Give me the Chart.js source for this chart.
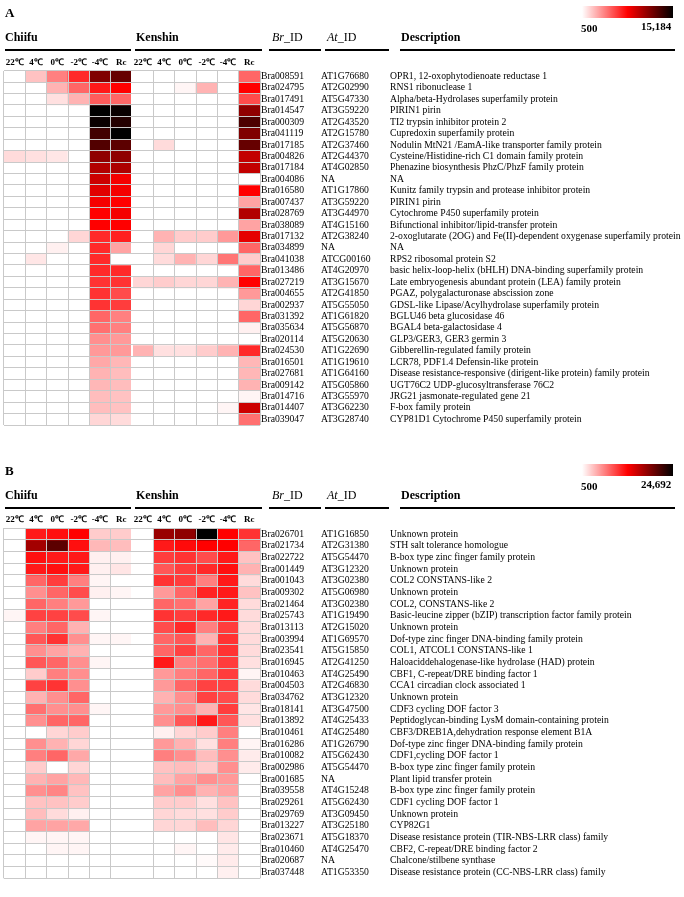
<!DOCTYPE html>
<html>
<head>
<meta charset="utf-8">
<script src="https://cdn.jsdelivr.net/npm/chart.js@4.4.1/dist/chart.umd.min.js"></script>
<style>
  body { margin: 0; background: #fff; width: 684px; height: 897px; position: relative; overflow: hidden; font-family: 'Liberation Serif', 'Times New Roman', serif; color: #000; }
  .panel { position: absolute; left: 0; width: 684px; }
  .panel canvas { position: absolute; left: 0; top: 0; z-index: 0; }
  .t { position: absolute; line-height: 1; white-space: nowrap; z-index: 2; }
  .tag { font-size: 13px; font-weight: bold; left: 5px; top: 6px; }
  .grp { font-size: 12px; font-weight: bold; top: 31px; }
  .ids { font-size: 12px; top: 31px; }
  .rule { position: absolute; top: 49px; height: 2px; background: #000; z-index: 2; }
  .bar { position: absolute; left: 582px; top: 6px; width: 91px; height: 12px; z-index: 2; background: linear-gradient(to right, #fff 0%, #ff0000 50%, #000 100%); }
  .scale { font-size: 11px; font-weight: bold; }
</style>
</head>
<body>

<div class="panel" id="panelA" style="top:0; height:440px;">
  <canvas id="heatA" width="684" height="436"></canvas>
  <div class="t tag">A</div>
  <div class="t grp" style="left:5px">Chiifu</div>
  <div class="t grp" style="left:136px">Kenshin</div>
  <div class="t ids" style="left:272px"><i>Br</i>_ID</div>
  <div class="t ids" style="left:327px"><i>At</i>_ID</div>
  <div class="t grp" style="left:401px">Description</div>
  <div class="rule" style="left:5px; width:126px"></div>
  <div class="rule" style="left:135px; width:127px"></div>
  <div class="rule" style="left:269px; width:52px"></div>
  <div class="rule" style="left:325px; width:64px"></div>
  <div class="rule" style="left:400px; width:275px"></div>
  <div class="bar"></div>
  <div class="t scale" style="left:581px; top:23px">500</div>
  <div class="t scale" style="left:641px; top:21px">15,184</div>
</div>

<div class="panel" id="panelB" style="top:458px; height:439px;">
  <canvas id="heatB" width="684" height="430"></canvas>
  <div class="t tag">B</div>
  <div class="t grp" style="left:5px">Chiifu</div>
  <div class="t grp" style="left:136px">Kenshin</div>
  <div class="t ids" style="left:272px"><i>Br</i>_ID</div>
  <div class="t ids" style="left:327px"><i>At</i>_ID</div>
  <div class="t grp" style="left:401px">Description</div>
  <div class="rule" style="left:5px; width:126px"></div>
  <div class="rule" style="left:135px; width:127px"></div>
  <div class="rule" style="left:269px; width:52px"></div>
  <div class="rule" style="left:325px; width:64px"></div>
  <div class="rule" style="left:400px; width:275px"></div>
  <div class="bar"></div>
  <div class="t scale" style="left:581px; top:23px">500</div>
  <div class="t scale" style="left:641px; top:21px">24,692</div>
</div>

<script>
// column labels, Chiifu then Kenshin
const temps = ['22℃', '4℃', '0℃', '-2℃', '-4℃', 'Rc'];

// ---- panel A ----
const maxA = 15184;
const brA = ['Bra008591', 'Bra024795', 'Bra017491', 'Bra014547', 'Bra000309', 'Bra041119', 'Bra017185', 'Bra004826',
  'Bra017184', 'Bra004086', 'Bra016580', 'Bra007437', 'Bra028769', 'Bra038089', 'Bra017132', 'Bra034899',
  'Bra041038', 'Bra013486', 'Bra027219', 'Bra004655', 'Bra002937', 'Bra031392', 'Bra035634', 'Bra020114',
  'Bra024530', 'Bra016501', 'Bra027681', 'Bra009142', 'Bra014716', 'Bra014407', 'Bra039047'];
const atA = ['AT1G76680', 'AT2G02990', 'AT5G47330', 'AT3G59220', 'AT2G43520', 'AT2G15780', 'AT2G37460', 'AT2G44370',
  'AT4G02850', 'NA', 'AT1G17860', 'AT3G59220', 'AT3G44970', 'AT4G15160', 'AT2G38240', 'NA',
  'ATCG00160', 'AT4G20970', 'AT3G15670', 'AT2G41850', 'AT5G55050', 'AT1G61820', 'AT5G56870', 'AT5G20630',
  'AT1G22690', 'AT1G19610', 'AT1G64160', 'AT5G05860', 'AT3G55970', 'AT3G62230', 'AT3G28740'];
const descA = [
  'OPR1, 12-oxophytodienoate reductase 1', 'RNS1 ribonuclease 1', 'Alpha/beta-Hydrolases superfamily protein',
  'PIRIN1 pirin', 'TI2 trypsin inhibitor protein 2', 'Cupredoxin superfamily protein',
  'Nodulin MtN21 /EamA-like transporter family protein', 'Cysteine/Histidine-rich C1 domain family protein',
  'Phenazine biosynthesis PhzC/PhzF family protein', 'NA', 'Kunitz family trypsin and protease inhibitor protein',
  'PIRIN1 pirin', 'Cytochrome P450 superfamily protein', 'Bifunctional inhibitor/lipid-transfer protein',
  '2-oxoglutarate (2OG) and Fe(II)-dependent oxygenase superfamily protein', 'NA', 'RPS2 ribosomal protein S2',
  'basic helix-loop-helix (bHLH) DNA-binding superfamily protein', 'Late embryogenesis abundant protein (LEA) family protein',
  'PGAZ, polygalacturonase abscission zone', 'GDSL-like Lipase/Acylhydrolase superfamily protein',
  'BGLU46 beta glucosidase 46', 'BGAL4 beta-galactosidase 4', 'GLP3/GER3, GER3 germin 3',
  'Gibberellin-regulated family protein', 'LCR78, PDF1.4 Defensin-like protein',
  'Disease resistance-responsive (dirigent-like protein) family protein', 'UGT76C2 UDP-glucosyltransferase 76C2',
  'JRG21 jasmonate-regulated gene 21', 'F-box family protein', 'CYP81D1 Cytochrome P450 superfamily protein'];
// expression per gene: 22, 4, 0, -2, -4, Rc
const chiifuA = [
  [0, 2260, 4170, 6670, 11510, 12250], [0, 0, 2700, 4910, 7110, 7840], [0, 0, 1380, 2700, 5200, 4910],
  [0, 0, 0, 0, 15184, 14890], [0, 0, 0, 0, 14890, 14160], [0, 0, 0, 0, 13280, 15184],
  [0, 0, 0, 0, 12830, 12540], [1530, 1380, 1230, 0, 11070, 11070], [0, 0, 0, 0, 10050, 10190],
  [0, 0, 0, 0, 9310, 8140], [0, 0, 0, 0, 8720, 8140], [0, 0, 0, 0, 8140, 7840],
  [0, 0, 0, 0, 7840, 8140], [0, 0, 0, 0, 7840, 7840], [0, 0, 0, 1670, 6670, 6960],
  [0, 0, 940, 0, 6670, 3140], [0, 1230, 0, 0, 6670, 0], [0, 0, 0, 0, 6670, 6670],
  [0, 0, 0, 0, 6370, 6370], [0, 0, 0, 0, 6370, 5640], [0, 0, 0, 0, 6370, 6080],
  [0, 0, 0, 0, 4910, 4170], [0, 0, 0, 0, 4610, 4170], [0, 0, 0, 0, 3730, 3440],
  [0, 0, 0, 0, 3440, 3440], [0, 0, 0, 0, 3000, 2560], [0, 0, 0, 0, 2700, 2410],
  [0, 0, 0, 0, 2560, 2410], [0, 0, 0, 0, 2410, 2260], [0, 0, 0, 0, 2410, 2260],
  [0, 0, 0, 0, 1670, 1530]];
const kenshinA = [
  [0, 0, 0, 0, 0, 4910], [0, 0, 800, 2700, 0, 7840], [0, 0, 0, 0, 0, 5640],
  [0, 0, 0, 0, 0, 11070], [0, 0, 0, 0, 0, 12980], [0, 0, 0, 0, 0, 11510],
  [0, 1530, 0, 0, 0, 12250], [0, 0, 0, 0, 0, 9600], [0, 0, 0, 0, 0, 9600],
  [0, 0, 0, 0, 0, 0], [0, 0, 0, 0, 0, 7840], [0, 0, 0, 0, 0, 3140],
  [0, 0, 0, 0, 0, 10050], [0, 0, 0, 0, 0, 3140], [0, 2700, 1970, 1970, 3440, 8580],
  [0, 1670, 0, 0, 0, 4910], [0, 1530, 2700, 1670, 4460, 1970], [0, 0, 0, 0, 0, 4910],
  [1670, 1970, 1670, 1670, 2700, 7840], [0, 0, 0, 0, 0, 3440], [0, 0, 0, 0, 0, 1670],
  [0, 0, 0, 0, 0, 4910], [0, 0, 0, 0, 0, 940], [0, 0, 0, 0, 0, 0],
  [2700, 1380, 1380, 1970, 2700, 6670], [0, 0, 0, 0, 0, 2560], [0, 0, 0, 0, 0, 2560],
  [0, 0, 0, 0, 0, 2700], [0, 0, 0, 0, 0, 800], [0, 0, 0, 0, 800, 9310],
  [0, 0, 0, 0, 0, 4610]];

// ---- panel B ----
const maxB = 24692;
const brB = ['Bra026701', 'Bra021734', 'Bra022722', 'Bra001449', 'Bra001043', 'Bra009302', 'Bra021464', 'Bra025743',
  'Bra013113', 'Bra003994', 'Bra023541', 'Bra016945', 'Bra010463', 'Bra004503', 'Bra034762', 'Bra018141',
  'Bra013892', 'Bra010461', 'Bra016286', 'Bra010082', 'Bra002986', 'Bra001685', 'Bra039558', 'Bra029261',
  'Bra029769', 'Bra013227', 'Bra023671', 'Bra010460', 'Bra020687', 'Bra037448'];
const atB = ['AT1G16850', 'AT2G31380', 'AT5G54470', 'AT3G12320', 'AT3G02380', 'AT5G06980', 'AT3G02380', 'AT1G19490',
  'AT2G15020', 'AT1G69570', 'AT5G15850', 'AT2G41250', 'AT4G25490', 'AT2G46830', 'AT3G12320', 'AT3G47500',
  'AT4G25433', 'AT4G25480', 'AT1G26790', 'AT5G62430', 'AT5G54470', 'NA', 'AT4G15248', 'AT5G62430',
  'AT3G09450', 'AT3G25180', 'AT5G18370', 'AT4G25470', 'NA', 'AT1G53350'];
const descB = [
  'Unknown protein', 'STH salt tolerance homologue', 'B-box type zinc finger family protein', 'Unknown protein',
  'COL2 CONSTANS-like 2', 'Unknown protein', 'COL2, CONSTANS-like 2',
  'Basic-leucine zipper (bZIP) transcription factor family protein', 'Unknown protein',
  'Dof-type zinc finger DNA-binding family protein', 'COL1, ATCOL1 CONSTANS-like 1',
  'Haloaciddehalogenase-like hydrolase (HAD) protein', 'CBF1, C-repeat/DRE binding factor 1',
  'CCA1 circadian clock associated 1', 'Unknown protein', 'CDF3 cycling DOF factor 3',
  'Peptidoglycan-binding LysM domain-containing protein', 'CBF3/DREB1A,dehydration response element B1A',
  'Dof-type zinc finger DNA-binding family protein', 'CDF1,cycling DOF factor 1',
  'B-box type zinc finger family protein', 'Plant lipid transfer protein', 'B-box type zinc finger family protein',
  'CDF1 cycling DOF factor 1', 'Unknown protein', 'CYP82G1',
  'Disease resistance protein (TIR-NBS-LRR class) family', 'CBF2, C-repeat/DRE binding factor 2',
  'Chalcone/stilbene synthase', 'Disease resistance protein (CC-NBS-LRR class) family'];
const chiifuB = [
  [0, 11390, 11870, 12600, 2920, 2920], [0, 16950, 20340, 11870, 3890, 3640], [0, 11870, 11390, 11390, 1230, 1230],
  [0, 11390, 11870, 11390, 1230, 1710], [0, 7760, 9690, 6550, 980, 0], [0, 5820, 7760, 8970, 1230, 980],
  [0, 7760, 6550, 5340, 0, 0], [980, 9450, 9450, 8970, 980, 0], [0, 6550, 7760, 4130, 0, 0],
  [0, 8480, 10180, 5820, 980, 980], [0, 5820, 4850, 4130, 0, 0], [0, 8480, 7760, 5820, 980, 0],
  [0, 2920, 6550, 5820, 0, 0], [0, 9450, 10180, 5820, 0, 0], [0, 4130, 5820, 7760, 0, 0],
  [0, 7270, 5820, 5820, 980, 0], [0, 5820, 7760, 7760, 0, 0], [0, 0, 2440, 2920, 0, 0],
  [0, 5820, 4130, 2440, 0, 0], [0, 6550, 7760, 4610, 0, 0], [0, 2920, 0, 2440, 0, 0],
  [0, 4130, 4850, 3890, 0, 0], [0, 5820, 6310, 3400, 0, 0], [0, 3400, 3400, 2920, 0, 0],
  [0, 3640, 2190, 1230, 0, 0], [0, 4850, 4850, 4610, 0, 0], [0, 980, 980, 980, 0, 0],
  [0, 0, 980, 980, 0, 0], [0, 0, 0, 0, 0, 0], [0, 0, 0, 0, 0, 0]];
const kenshinB = [
  [0, 17430, 17920, 24692, 12600, 10180], [0, 11390, 12110, 12600, 12600, 7760], [0, 9690, 10180, 8970, 11390, 3400],
  [0, 8480, 9690, 10660, 11870, 4130], [0, 10180, 9690, 6550, 11390, 2190], [0, 5340, 7760, 10900, 11390, 3400],
  [0, 7760, 7270, 4850, 10900, 2190], [0, 10180, 9690, 10660, 11390, 2190], [0, 8970, 10660, 6550, 9690, 2190],
  [0, 7760, 8480, 4130, 10180, 2190], [0, 7760, 9450, 7760, 10180, 2190], [0, 11390, 6550, 7270, 9690, 1950],
  [0, 5340, 6550, 7760, 9690, 980], [0, 5340, 7760, 9450, 9450, 2190], [0, 4130, 5820, 9450, 8970, 2190],
  [0, 5340, 5820, 4130, 9690, 1710], [0, 5820, 8480, 11390, 8480, 1950], [0, 1230, 2440, 2920, 6550, 0],
  [0, 5340, 4130, 1950, 6550, 980], [0, 6550, 5820, 3640, 5820, 1470], [0, 3400, 3640, 2920, 5820, 1470],
  [0, 3640, 4850, 5820, 5340, 0], [0, 4850, 5820, 4130, 4850, 0], [0, 2920, 2920, 1950, 3400, 0],
  [0, 2440, 2190, 1950, 2920, 0], [0, 2440, 2440, 3640, 2440, 0], [0, 0, 0, 0, 1710, 0],
  [0, 0, 980, 0, 1470, 0], [0, 0, 0, 740, 1470, 0], [0, 0, 0, 0, 1230, 0]];

const minVal = 500;
const gridColor = '#c9c9c9';
const rowFont = { family: "'Liberation Serif', serif", size: 9.7 };

// white -> red -> black, same as the colour key
const cellColor = (v, max) => {
  const t = Math.min(Math.max((v - minVal) / (max - minVal), 0), 1);
  if (t < 0.5) {
    const g = Math.round(255 * (1 - t / 0.5));
    return `rgb(255,${g},${g})`;
  }
  const r = Math.round(255 * (1 - (t - 0.5) / 0.5));
  return `rgb(${r},0,0)`;
};

const textAxis = (labels, weight, width) => ({
  type: 'category',
  position: 'right',
  labels,
  offset: true,
  weight,
  grid: { display: false, drawTicks: false },
  border: { display: false },
  ticks: { autoSkip: false, crossAlign: 'near', padding: 1, color: '#000', font: rowFont },
  afterFit: s => { s.width = width; }
});

const drawHeatmap = (canvasId, genes, atIds, descs, chiifu, kenshin, max, headerH, bottomPad) => {
  const columns = [...temps, ...temps];
  const datasets = genes.map((g, i) => ({
    label: g,
    data: columns.map(() => 1),
    backgroundColor: [...chiifu[i], ...kenshin[i]].map(v => cellColor(v, max)),
    borderWidth: 0,
    barPercentage: 1,
    categoryPercentage: 1
  }));

  new Chart(document.getElementById(canvasId), {
    type: 'bar',
    data: { labels: columns, datasets },
    options: {
      responsive: false,
      animation: false,
      layout: { padding: { left: 4, top: 0, right: 0, bottom: bottomPad } },
      plugins: { legend: { display: false }, tooltip: { enabled: false } },
      scales: {
        x: {
          position: 'top',
          stacked: true,
          ticks: {
            autoSkip: false, maxRotation: 0, padding: 3, color: '#000',
            font: { family: "'Liberation Serif', serif", size: 9, weight: 'bold' }
          },
          grid: {
            offset: true, drawTicks: false, z: 1,
            color: ctx => ctx.index === 6 ? '#fff' : gridColor,
            lineWidth: ctx => ctx.index === 6 ? 2 : 1
          },
          border: { display: false },
          afterFit: s => { s.height = headerH; }
        },
        y: {
          stacked: true,
          reverse: true,
          min: 0,
          max: genes.length,
          ticks: { display: false, stepSize: 1, maxTicksLimit: 200 },
          grid: { drawTicks: false, color: gridColor, z: 1 },
          border: { display: false },
          afterFit: s => { s.width = 0; }
        },
        br: textAxis(genes, 1, 60),
        at: textAxis(atIds, 2, 69),
        desc: textAxis(descs, 3, 295)
      }
    }
  });
};

drawHeatmap('heatA', brA, atA, descA, chiifuA, kenshinA, maxA, 70.7, 11);
drawHeatmap('heatB', brB, atB, descB, chiifuB, kenshinB, maxB, 70.3, 9.7);
</script>
</body>
</html>
